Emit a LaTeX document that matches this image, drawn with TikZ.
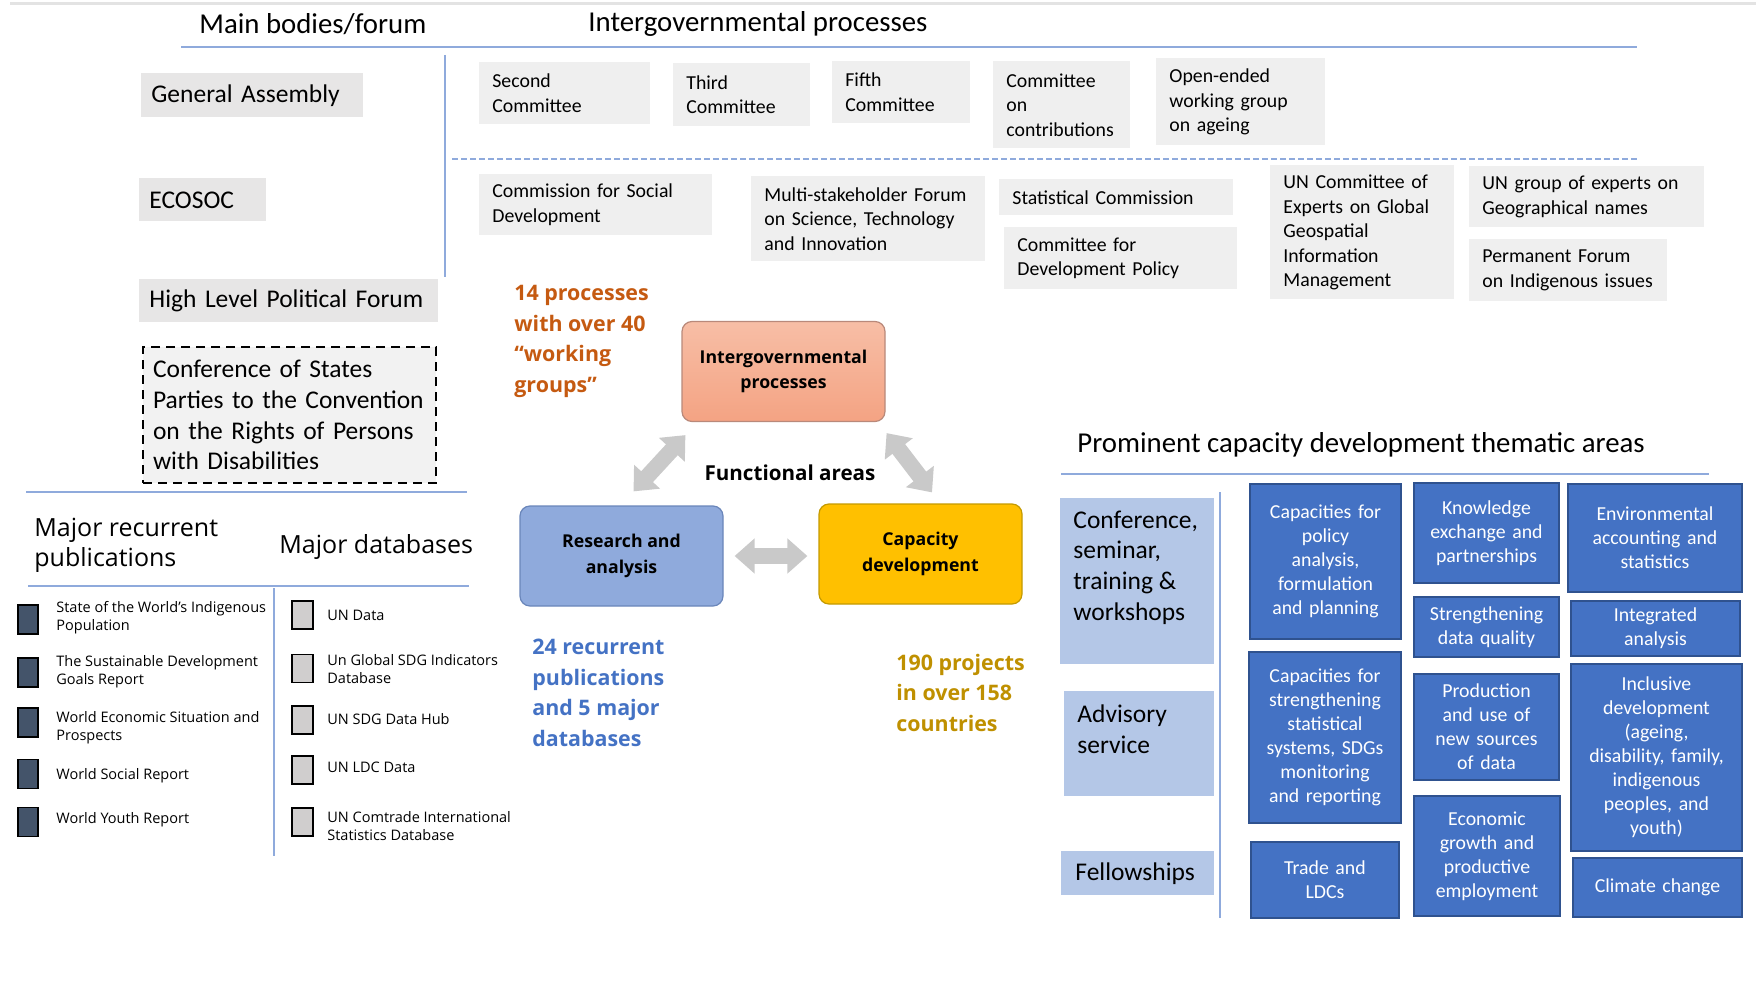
\documentclass[tikz,border=0pt]{standalone}
\usepackage{fontspec}
\setmainfont{Carlito}
\newfontfamily\osans{Open Sans}
\usepackage{tikz}
\usetikzlibrary{arrows.meta}

\definecolor{rulegray}{HTML}{E3E3E3}
\definecolor{ruleblue}{HTML}{8FAADC}
\definecolor{boxgray}{HTML}{EFEFEF}
\definecolor{mbgray}{HTML}{E7E6E6}
\definecolor{cospgray}{HTML}{F2F2F2}
\definecolor{cellblue}{HTML}{4472C4}
\definecolor{cellline}{HTML}{2F528F}
\definecolor{lightblue}{HTML}{B4C7E7}
\definecolor{igptop}{HTML}{F7BEA6}
\definecolor{igpbot}{HTML}{F4A383}
\definecolor{igpline}{HTML}{B9897A}
\definecolor{rnafill}{HTML}{8FAADC}
\definecolor{rnaline}{HTML}{6A86BA}
\definecolor{capfill}{HTML}{FFC000}
\definecolor{capline}{HTML}{C49A00}
\definecolor{arrowgray}{HTML}{C9C9C9}
\definecolor{orangetxt}{HTML}{C55A11}
\definecolor{bluetxt}{HTML}{4472C4}
\definecolor{goldtxt}{HTML}{BF9000}
\definecolor{pubsq}{HTML}{44546A}
\definecolor{dbsq}{HTML}{D0CECE}

\newcommand\fhead{\fontsize{14.4pt}{17pt}\selectfont}
\newcommand\fbody{\fontsize{12.75pt}{15.35pt}\selectfont}
\newcommand\fsmall{\fontsize{9.9pt}{12.25pt}\selectfont}
\newcommand\fcell{\fontsize{9.9pt}{12pt}\selectfont}
\newcommand\fmajor{\osans\fontsize{12.5pt}{15pt}\selectfont}
\newcommand\flist{\osans\fontsize{7.25pt}{9pt}\selectfont}
\newcommand\fstat{\osans\bfseries\fontsize{10.7pt}{15.25pt}\selectfont}
\newcommand\ffunc{\osans\bfseries\fontsize{8.85pt}{12.85pt}\selectfont}
\newcommand\farea{\osans\bfseries\fontsize{10.3pt}{12pt}\selectfont}

\tikzset{
  hdr/.style={anchor=west, inner sep=0pt, font=\fhead},
  mhdr/.style={anchor=west, inner sep=0pt, align=left, font=\fmajor},
  bline/.style={draw=ruleblue, line width=1pt},
  dline/.style={draw=ruleblue, line width=0.8pt, dash pattern=on 3pt off 1.5pt},
  gbox/.style 2 args={fill=boxgray, anchor=north west, inner xsep=6.5pt, inner ysep=0pt,
    align=left, font=\fsmall, text width=#1, minimum height=#2},
  mbox/.style 2 args={fill=mbgray, anchor=north west, inner xsep=5pt, inner ysep=0pt,
    align=left, font=\fbody, text width=#1, minimum height=#2},
  fbox/.style={rounded corners=5pt, minimum width=101.5pt, minimum height=50pt,
    align=center, font=\ffunc, line width=0.6pt},
  garrow/.style={draw=arrowgray, line width=8pt,
    {Triangle[length=10pt,width=17pt]}-{Triangle[length=10pt,width=17pt]}},
  stat/.style={anchor=west, inner sep=0pt, align=left, font=\fstat},
  cell/.style 2 args={fill=cellblue, draw=cellline, line width=0.75pt, text=white,
    font=\fcell, align=center, inner xsep=2pt, inner ysep=0pt,
    text width=#1, minimum height=#2},
  lbox/.style={fill=lightblue},
  lbtext/.style={anchor=west, inner sep=0pt, align=left, font=\fbody},
  sq/.style={draw=black, line width=0.75pt, inner sep=0pt},
  listtext/.style={anchor=west, inner sep=0pt, align=left, font=\flist}
}

\begin{document}
\begin{tikzpicture}[x=0.5pt,y=-0.5pt]
\useasboundingbox (0,0) rectangle (1756,990);

% rules
\draw[draw=rulegray, line width=1.5pt] (10,4) -- (1756,4);
\draw[bline] (181,47) -- (1637,47);
\draw[bline] (445,55) -- (445,277);
\draw[dline] (452,159) -- (1637,159);
\draw[bline] (26,492) -- (467,492);
\draw[bline] (28,586) -- (469,586);
\draw[bline] (274,588) -- (274,856);
\draw[bline] (1061,474) -- (1709,474);
\draw[bline] (1220,492) -- (1220,918);

% headings
\node[hdr] (hmain) at (199,24) {Main bodies/forum};
\node[hdr] (higp) at (588,24) {Intergovernmental processes};
\node[hdr] (hcap) at (1077,445) {Prominent capacity development thematic areas};
\node[mhdr] (hpub) at (34,545) {Major recurrent\\publications};
\node[mhdr] (hdb) at (279,547) {Major databases};

% main bodies
\node[mbox={101pt}{22pt}] (ga) at (141,73) {General Assembly};
\node[mbox={53.5pt}{21.5pt}] (eco) at (139,178) {ECOSOC};
\node[mbox={139.5pt}{21.5pt}] (hlpf) at (139,279) {High Level Political Forum};
\node[mbox={136.5pt}{68pt}, fill=cospgray, draw=black, line width=1pt,
  dash pattern=on 4.5pt off 3pt] (cosp) at (142,346)
  {Conference of States\\Parties to the Convention\\on the Rights of Persons\\with Disabilities};

% intergovernmental processes
\node[gbox={72.5pt}{31pt}] (sec) at (479,62) {Second\\Committee};
\node[gbox={55.5pt}{31.5pt}] (thr) at (673,63) {Third\\Committee};
\node[gbox={56pt}{31pt}] (fif) at (832,61) {Fifth\\Committee};
\node[gbox={55.5pt}{43.5pt}] (coc) at (993,61) {Committee\\on\\contributions};
\node[gbox={71.5pt}{43.5pt}] (oew) at (1156,58) {Open-ended\\working group\\on ageing};
\node[gbox={103.5pt}{30.5pt}] (csd) at (479,174) {Commission for Social\\Development};
\node[gbox={104pt}{42.5pt}] (msf) at (751,176) {Multi-stakeholder Forum\\on Science, Technology\\and Innovation};
\node[gbox={104pt}{18pt}] (stc) at (999,179) {Statistical Commission};
\node[gbox={103.5pt}{31pt}] (cdp) at (1004,227) {Committee for\\Development Policy};
\node[gbox={79pt}{67pt}] (ggim) at (1270,165) {UN Committee of\\Experts on Global\\Geospatial\\Information\\Management};
\node[gbox={104.5pt}{30.5pt}] (ungegn) at (1469,166) {UN group of experts on\\Geographical names};
\node[gbox={86pt}{31pt}] (pfii) at (1469,239) {Permanent Forum\\on Indigenous issues};

% functional areas
\node[fbox, draw=igpline, top color=igptop, bottom color=igpbot] (igp) at (783.5,371.5)
  {Intergovernmental\\processes};
\node[fbox, draw=rnaline, fill=rnafill] (rna) at (621.5,556) {Research and\\analysis};
\node[fbox, draw=capline, fill=capfill] (cap) at (920.5,554) {Capacity\\development};
\node[font=\farea, inner sep=0pt] (farea) at (790,473) {Functional areas};

\draw[garrow] ([shift={(12,-14)}]rna.north) -- ([shift={(4,13)}]igp.south west);
\draw[garrow] ([shift={(1,11)}]igp.south east) -- ([shift={(11.5,-11)}]cap.north);
\draw[garrow] ([shift={(11,0)}]rna.east) -- ([shift={(-11,2)}]cap.west);

\node[stat, text=orangetxt] (ngroups) at (514,341.5) {14 processes\\with over 40\\“working\\groups”};
\node[stat, text=bluetxt] (npubs) at (532,693) {24 recurrent\\publications\\and 5 major\\databases};
\node[stat, text=goldtxt] (nproj) at (896,692.5) {190 projects\\in over 158\\countries};

% publications and databases
\foreach \y/\ty/\txt [count=\i] in {619.5/618/{State of the World’s Indigenous\\Population},
    672.5/672/{The Sustainable Development\\Goals Report},
    722.5/728/{World Economic Situation and\\Prospects},
    774/776/{World Social Report},
    822/820/{World Youth Report}} {
  \node[sq, fill=pubsq, minimum width=10pt, minimum height=14.5pt] (pub\i) at (28,\y) {};
  \node[listtext] (pubt\i) at (56,\ty) {\txt};
}
\foreach \y/\ty/\txt [count=\i] in {615/615/{UN Data},
    668.5/669/{Un Global SDG Indicators\\Database},
    720/719/{UN SDG Data Hub},
    770/767/{UN LDC Data},
    822/826/{UN Comtrade International\\Statistics Database}} {
  \node[sq, fill=dbsq, minimum width=10.5pt, minimum height=14pt] (db\i) at (302.5,\y) {};
  \node[listtext] (dbt\i) at (327,\ty) {\txt};
}

% capacity development
\node[lbox, minimum width=77pt, minimum height=83pt] (conf) at (1137,581) {};
\node[lbtext] (conft) at (1073,567.5) {Conference,\\seminar,\\training \&\\workshops};
\node[lbox, minimum width=75pt, minimum height=52.5pt] (adv) at (1139,743.5) {};
\node[lbtext] (advt) at (1077,729.5) {Advisory\\service};
\node[lbox, minimum width=76.5pt, minimum height=22pt] (fel) at (1137.5,873) {};
\node[lbtext] (felt) at (1075,874) {Fellowships};

\node[cell={71.5pt}{77.5pt}] (cb1) at (1325.5,561.5) {Capacities for\\policy\\analysis,\\formulation\\and planning};
\node[cell={72pt}{85.5pt}] (cb2) at (1325,737.5) {Capacities for\\strengthening\\statistical\\systems, SDGs\\monitoring\\and reporting};
\node[cell={70pt}{38pt}] (cb3) at (1325,880) {Trade and\\LDCs};
\node[cell={68.5pt}{50pt}] (cb4) at (1486.5,533) {Knowledge\\exchange and\\partnerships};
\node[cell={68.5pt}{30pt}] (cb5) at (1486.5,627) {Strengthening\\data quality};
\node[cell={68.5pt}{53pt}] (cb6) at (1486.5,727) {Production\\and use of\\new sources\\of data};
\node[cell={69pt}{60pt}] (cb7) at (1487,856) {Economic\\growth and\\productive\\employment};
\node[cell={83pt}{54pt}] (cb8) at (1655,538) {Environmental\\accounting and\\statistics};
\node[cell={80.5pt}{27.5pt}] (cb9) at (1655.5,628.5) {Integrated\\analysis};
\node[cell={81.5pt}{93.5pt}] (cb10) at (1656.5,757.5) {Inclusive\\development\\(ageing,\\disability, family,\\indigenous\\peoples, and\\youth)};
\node[cell={80.5pt}{29.5pt}] (cb11) at (1657.5,887.5) {Climate change};
\end{tikzpicture}
\end{document}
